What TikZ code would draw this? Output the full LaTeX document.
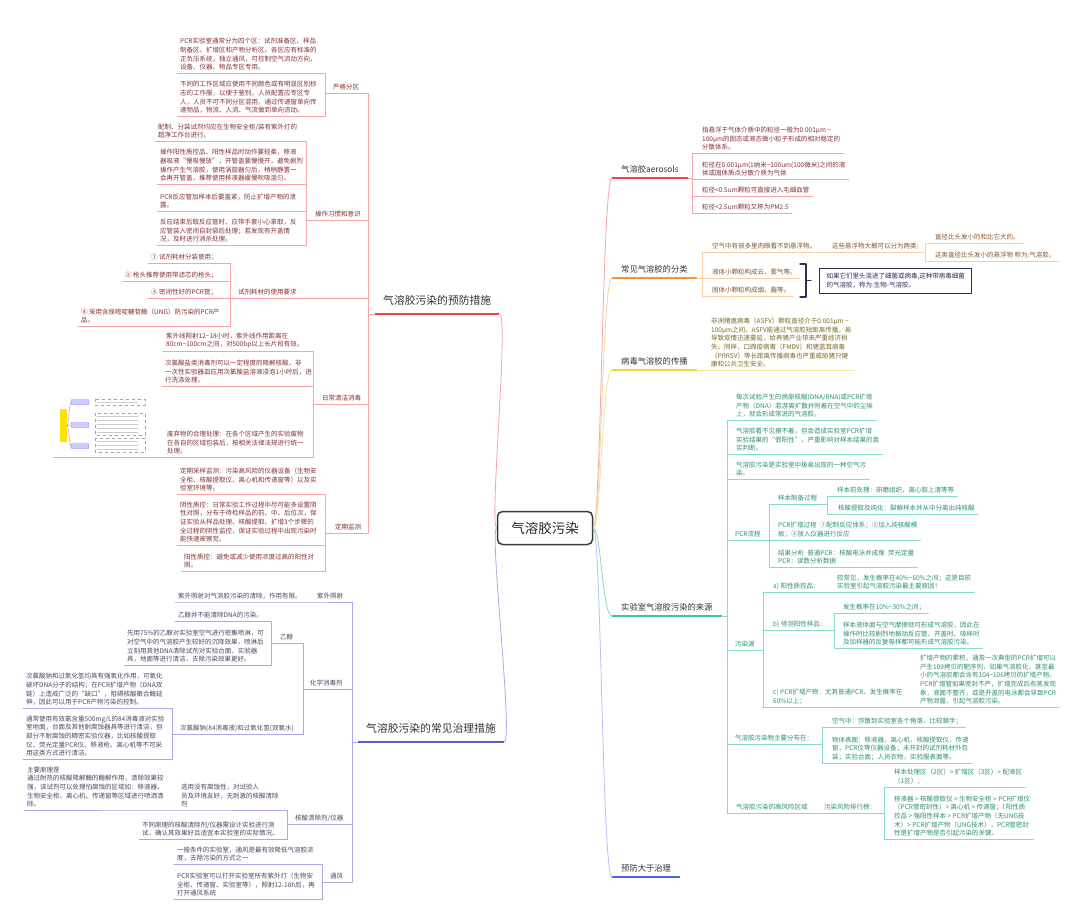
\documentclass[tikz,border=0pt]{standalone}
\usepackage{fontspec}
\setmainfont{Noto Sans CJK SC}
\definecolor{hubline}{RGB}{60,60,60}
\definecolor{redT}{RGB}{130,50,50}
\definecolor{redL}{RGB}{245,165,165}
\definecolor{redM}{RGB}{238,70,70}
\definecolor{bluT}{RGB}{72,72,100}
\definecolor{bluL}{RGB}{170,170,230}
\definecolor{bluM}{RGB}{90,90,215}
\definecolor{orgT}{RGB}{135,85,45}
\definecolor{orgL}{RGB}{248,208,165}
\definecolor{orgM}{RGB}{245,148,55}
\definecolor{yelT}{RGB}{125,105,40}
\definecolor{yelL}{RGB}{244,228,150}
\definecolor{yelM}{RGB}{245,212,45}
\definecolor{grnT}{RGB}{45,145,105}
\definecolor{grnL}{RGB}{135,222,188}
\definecolor{grnM}{RGB}{55,205,140}
\definecolor{preM}{RGB}{72,100,240}
\definecolor{navy}{RGB}{45,47,90}
\newcommand{\tl}{\textasciitilde}
\begin{document}
\begin{tikzpicture}[x=1pt, y=-1pt, line join=round, line cap=round,
  txt/.style={anchor=south west, align=left, inner xsep=3pt, inner ysep=2.5pt, font=\fontsize{6.5}{8.6}\selectfont},
  rtx/.style={txt, text=redT}, btx/.style={txt, text=bluT}, otx/.style={txt, text=orgT},
  ytx/.style={txt, text=yelT}, gtx/.style={txt, text=grnT},
  rl/.style={draw=redL, line width=0.8pt}, bl/.style={draw=bluL, line width=0.8pt},
  ol/.style={draw=orgL, line width=0.8pt}, yl/.style={draw=yelL, line width=0.8pt},
  gl/.style={draw=grnL, line width=0.8pt},
  topR/.style={anchor=south west, inner xsep=9pt, inner ysep=5pt, font=\fontsize{8.3}{10}\selectfont, text=black!80},
  topL/.style={anchor=south west, inner xsep=8pt, inner ysep=8pt, font=\fontsize{10.8}{12}\selectfont, text=black!80},
  bar/.style={line width=2.6pt, line cap=butt},
  hubbox/.style={draw=hubline, line width=1.5pt, rounded corners=5pt, fill=white, minimum width=95pt, minimum height=33pt, font=\fontsize{13.5}{15}\selectfont, text=black!85}]
\fill[white] (0,0) rectangle (1080,923);
\useasboundingbox (0,0) rectangle (1080,923);
% trunks
\coordinate (T1) at (368,0); \coordinate (A1) at (325,0); \coordinate (A2) at (306,0);
\coordinate (A3) at (230,0); \coordinate (A4) at (313,0); \coordinate (A5) at (325,0);
\coordinate (T2) at (352,0); \coordinate (B1) at (303,0); \coordinate (B2) at (303,0);
\coordinate (B21) at (271,0); \coordinate (B22) at (172,0); \coordinate (B3) at (287,0); \coordinate (B4) at (322,0);
\coordinate (C1) at (692,0); \coordinate (C2) at (702,0); \coordinate (C21) at (925,0);
\coordinate (C4) at (727,0); \coordinate (C41) at (769,0); \coordinate (C411) at (827,0);
\coordinate (C42) at (763,0); \coordinate (C422) at (834,0); \coordinate (C43) at (822,0); \coordinate (C44) at (884,0);

% hub and main topics
\node[hubbox] (hub) at (545,528) {气溶胶污染};
\node[topL] (prv) at (375,314) {气溶胶污染的预防措施};
\node[topL] (trt) at (358,742) {气溶胶污染的常见治理措施};
\node[topR] (aer) at (612,178) {气溶胶aerosols};
\node[topR] (cls) at (612,278) {常见气溶胶的分类};
\node[topR] (vir) at (612,370) {病毒气溶胶的传播};
\node[topR] (src) at (612,616) {实验室气溶胶污染的来源};
\node[topR] (pre) at (612,877) {预防大于治理};
\draw[redL, line width=0.8pt] (hub.west) .. controls +(-8,0) and +(10,0) .. (prv.south east);
\draw[bluL, line width=0.8pt] (hub.west) .. controls +(-8,0) and +(10,0) .. (trt.south east);
\draw[redL, line width=0.8pt] (hub.east) .. controls +(8,0) and +(-10,0) .. (aer.south west);
\draw[orgL, line width=0.8pt] (hub.east) .. controls +(8,0) and +(-10,0) .. (cls.south west);
\draw[yelL, line width=0.8pt] (hub.east) .. controls +(8,0) and +(-10,0) .. (vir.south west);
\draw[grnL, line width=0.8pt] (hub.east) .. controls +(8,0) and +(-10,0) .. (src.south west);
\draw[preM!40, line width=0.8pt] (hub.east) .. controls +(8,0) and +(-10,0) .. (pre.south west);
\draw[bar, redM] (prv.south west) -- (prv.south east);
\draw[bar, bluM] (trt.south west) -- (trt.south east);
\draw[bar, redM] (aer.south west) -- (aer.south east);
\draw[bar, orgM] (cls.south west) -- (cls.south east);
\draw[bar, yelM] (vir.south west) -- (vir.south east);
\draw[bar, grnM] (src.south west) -- (src.south east);
\draw[bar, preM] (pre.south west) -- (pre.south east);

% ---- 预防措施
\node[rtx] (sp) at (330,93) {严格分区};
\node[rtx] (sp1) at (177,73) {PCR实验室通常分为四个区：试剂准备区、样品\\制备区、扩增区和产物分析区。各区应有标准的\\正负压系统，独立通风，可控制空气流动方向，\\设备、仪器、物品专区专用。};
\node[rtx] (sp2) at (177,116) {不同的工作区域应使用不同颜色或有明显区别标\\志的工作服，以便于鉴别。人员配置应专区专\\人，人员不可不同分区混用，通过传递窗单向传\\递物品，物流、人流、气流做到单向流动。};
\draw[rl] (sp1.south west) -| (A1 |- sp2.south) -- (sp2.south west);
\draw[rl] (A1 |- sp.south) -- (T1 |- sp.south);

\node[rtx] (op) at (312,220) {操作习惯和意识};
\node[rtx] (op1) at (155,141) {配制、分装试剂均应在生物安全柜/装有紫外灯的\\超净工作台进行。};
\node[rtx] (op2) at (157,184) {操作阳性质控品、阳性样品时动作要轻柔，移液\\器吸液“慢吸慢放”，开管盖要慢慢开，避免剧烈\\操作产生气溶胶，使用涡旋器匀后，稍稍静置一\\会再开管盖，推荐使用移液器缓慢吹吸混匀。};
\node[rtx] (op3) at (157,211) {PCR反应管加样本后要盖紧，防止扩增产物的泄\\露。};
\node[rtx] (op4) at (157,245) {反应结束后取反应管时，应带手套小心拿取，反\\应管装入密闭自封袋后处理；若发现有开盖情\\况，及时进行消杀处理。};
\draw[rl] (op1.south west) -| (A2 |- op4.south) -- (op4.south west);
\draw[rl] (op2.south west) -- (A2 |- op2.south);
\draw[rl] (op3.south west) -- (A2 |- op3.south);
\draw[rl] (A2 |- op.south) -- (T1 |- op.south);

\node[rtx] (re) at (235,298) {试剂耗材的使用要求};
\node[rtx] (re1) at (148,263) {① 试剂耗材分装使用；};
\node[rtx] (re2) at (122,281) {② 枪头推荐使用带滤芯的枪头；};
\node[rtx] (re3) at (148,298) {③ 密闭性好的PCR管；};
\node[rtx] (re4) at (78,326) {④ 采用含尿嘧啶糖苷酶（UNG）防污染的PCR产\\品。};
\draw[rl] (re1.south west) -| (A3 |- re4.south) -- (re4.south west);
\draw[rl] (re2.south west) -- (A3 |- re2.south);
\draw[rl] (re3.south west) -- (A3 |- re3.south);
\draw[rl] (A3 |- re.south) -- (T1 |- re.south);

\node[rtx] (dc) at (319,404) {日常清洁消毒};
\node[rtx] (dc1) at (163,351) {紫外线照射12\tl18小时，紫外线作用距离在\\80cm\tl100cm之间，对500bp以上长片段有效。};
\node[rtx] (dc2) at (162,386) {次氯酸盐类消毒剂可以一定程度的降解核酸，非\\一次性实验器皿应用次氯酸盐溶液浸泡1小时后，进\\行洗涤处理。};
\node[rtx] (dc3) at (164,457) {废弃物的合理处理：在各个区域产生的实验废物\\在各自的区域包装后，按相关法律法规进行统一\\处理。};
\coordinate (dcimg) at (53,457);
\draw[rl] (dc1.south west) -| (A4 |- dcimg) -- (dcimg);
\draw[rl] (dc2.south west) -- (A4 |- dc2.south);
\draw[rl] (A4 |- dc.south) -- (T1 |- dc.south);
% small picture in the topic
\fill[yellow!85!orange, rounded corners=1pt] (60,409) rectangle (67,442);
\foreach \yy in {402,425,446} {
  \draw[blue!35, line width=0.5pt] (67,425.5) .. controls (69,425.5) and (69,\yy) .. (71,\yy);
  \draw[blue!45, fill=blue!20, rounded corners=1pt] (71,\yy-2.5) rectangle (89,\yy+2.5);
}
\draw[gray!70, dashed, line width=0.4pt] (95,399) rectangle (145,405) (95,413) rectangle (145,435) (95,438) rectangle (145,452);
\foreach \yy in {402,416,420,424,428,432,441,445,449}
  \draw[gray!40, line width=0.8pt] (97,\yy) -- (138,\yy);

\node[rtx] (pm) at (332,533) {定期监测};
\node[rtx] (pm1) at (177,494) {定期采样监测：污染高风险的仪器设备（生物安\\全柜、核酸提取仪、离心机和传递窗等）以及实\\验室环境等。};
\node[rtx] (pm2) at (177,545) {阴性质控：日常实验工作过程中尽可能多设置阴\\性对照，分布于待检样品的前、中、后位次，保\\证实验从样品处理、核酸提取、扩增3个步骤的\\全过程的阴性监控，保证实验过程中出现污染时\\能快速被察觉。};
\node[rtx] (pm3) at (181,571) {阳性质控：避免或减少使用浓度过高的阳性对\\照。};
\draw[rl] (pm1.south west) -| (A5 |- pm3.south) -- (pm3.south west);
\draw[rl] (pm2.south west) -- (A5 |- pm2.south);
\draw[rl] (A5 |- pm.south) -- (T1 |- pm.south);
\draw[rl] (T1 |- sp.south) -- (T1 |- pm.south);
\draw[rl] (T1 |- prv.south) -- (prv.south west);

% ---- 治理措施
\node[btx] (uv) at (314,602) {紫外照射};
\node[btx] (uv1) at (175,602) {紫外照射对气溶胶污染的清除，作用有限。};
\draw[bl] (uv1.south west) -- (B1 |- uv1.south) -- (T2 |- uv.south);

\node[btx] (ch) at (307,689) {化学消毒剂};
\node[btx] (et) at (277,643) {乙醇};
\node[btx] (et1) at (175,621) {乙醇并不能清除DNA的污染。};
\node[btx] (et2) at (124,665) {先用75\%的乙醇对实验室空气进行密集喷淋，可\\对空气中的气溶胶产生较好的沉降效果，喷淋后\\立刻用其他DNA清除试剂对实验台面，实验器\\具，地面等进行清洁，去除污染效果更好。};
\node[btx] (hy) at (177,734) {次氯酸钠(84消毒液)和过氧化氢(双氧水)};
\node[btx] (hy1) at (23,708) {次氯酸钠和过氧化氢均具有强氧化作用，可氧化\\破坏DNA分子的结构；在PCR扩增产物（DNA双\\链）上造成广泛的“缺口”，阻碍核酸聚合酶延\\伸，因此可以用于PCR产物污染的控制。};
\node[btx] (hy2) at (23,759) {通常使用有效氯含量500mg/L的84消毒液对实验\\室地面，台面及其他耐腐蚀器具等进行清洁，但\\部分不耐腐蚀的精密实验仪器，比如核酸提取\\仪、荧光定量PCR仪、移液枪、离心机等不可采\\用这类方式进行清洁。};
\draw[bl] (et1.south west) -| (B21 |- et2.south) -- (et2.south west);
\draw[bl] (B21 |- et.south) -- (B2 |- et.south) -- (B2 |- hy.south) -- (B22 |- hy.south);
\draw[bl] (hy1.south west) -| (B22 |- hy2.south) -- (hy2.south west);
\draw[bl] (B2 |- ch.south) -- (T2 |- ch.south);

\node[btx] (na) at (292,824) {核酸清除剂/仪器};
\node[btx] (na1) at (178,810) {选用没有腐蚀性，对试验人\\员及环境友好，无刺激的核酸清除\\剂};
\node[btx] (na11) at (24,810) {主要原理是\\通过耐热的核酸降解酶的酶解作用，清除效果较\\强，该试剂可以处理怕腐蚀的区域如：移液器、\\生物安全柜、离心机、传递窗等区域进行喷洒清\\除。};
\node[btx] (na2) at (139,839) {不同原理的核酸清除剂/仪器需设计实验进行测\\试，确认其效果好且适宜本实验室的实际情况。};
\draw[bl] (na11.south west) -- (na1.south west) -| (B3 |- na2.south) -- (na2.south west);
\draw[bl] (B3 |- na.south) -- (T2 |- na.south);

\node[btx] (ve) at (327,882) {通风};
\node[btx] (ve1) at (174,864) {一般条件的实验室，通风是最有效降低气溶胶浓\\度，去除污染的方式之一};
\node[btx] (ve2) at (174,899) {PCR实验室可以打开实验室所有紫外灯（生物安\\全柜、传递窗、实验室等），照射12-18h后，再\\打开通风系统};
\draw[bl] (ve1.south west) -| (B4 |- ve2.south) -- (ve2.south west);
\draw[bl] (B4 |- ve.south) -- (T2 |- ve.south);
\draw[bl] (T2 |- uv.south) -- (T2 |- ve.south);
\draw[bl] (T2 |- trt.south) -- (trt.south west);

% ---- aerosols
\node[rtx] (ae1) at (699,153) {指悬浮于气体介质中的粒径一般为0.001μm \tl\\100μm的固态或液态微小粒子形成的相对稳定的\\分散体系。};
\node[rtx] (ae2) at (699,179) {粒径在0.001μm(1纳米\tl100um(100微米)之间的液\\体或固体质点分散介质为气体};
\node[rtx] (ae3) at (699,196) {粒径<0.5um颗粒可直接进入毛细血管};
\node[rtx] (ae4) at (699,213) {粒径<2.5um颗粒又称为PM2.5};
\draw[rl] (ae1.south east) -- (C1 |- ae1.south) -- (C1 |- ae4.south) -- (ae4.south east);
\draw[rl] (C1 |- ae2.south) -- (ae2.south east);
\draw[rl] (C1 |- ae3.south) -- (ae3.south east);
\draw[rl] (aer.south east) -- (C1 |- aer.south);

% ---- 分类
\node[otx] (cl1) at (709,252) {空气中有很多里肉眼看不到悬浮物。};
\node[otx] (cl11) at (829,252) {这些悬浮物大概可以分为两类:};
\node[otx] (cl111) at (932,243) {直径比头发小的和比它大的。};
\node[otx] (cl112) at (932,261) {这类直径比头发小的悬浮物 称为:气溶胶。};
\node[otx] (cl2) at (709,278) {液体小颗粒构成云、雾气等。};
\node[otx] (cl3) at (709,296) {固体小颗粒构成烟、霾等。};
\draw[ol] (C2 |- cl1.south) -- (C21 |- cl11.south);
\draw[ol] (cl111.south east) -- (C21 |- cl111.south) -- (C21 |- cl112.south) -- (cl112.south east);
\draw[ol] (C2 |- cl1.south) -- (C2 |- cl3.south) -- (cl3.south east);
\draw[ol] (C2 |- cl2.south) -- (cl2.south east);
\draw[ol] (cls.south east) -- (C2 |- cls.south);
\node[draw=navy, line width=1pt, fill=white, align=left, inner xsep=7pt, minimum height=25pt,
  font=\fontsize{6.5}{8.6}\selectfont, text=navy, anchor=west] (bio) at (819,280.5)
  {如果它们里头混进了细菌或病毒,这种带病毒细菌\\的气溶胶，称为:生物-气溶胶。};
\draw[navy, line width=1.2pt] (800,264) -- (806,264) -- (806,297) -- (800,297) (806,280.5) -- (811,280.5);

% ---- 病毒
\node[ytx] (vi1) at (708,370) {非洲猪瘟病毒（ASFV）颗粒直径介于0.001μm \tl\\100μm之间。ASFV能通过气溶胶短距离传播，易\\导致疫情迅速蔓延，给养猪产业带来严重经济损\\失。同样，口蹄疫病毒（FMDV）和猪蓝耳病毒\\（PRRSV）等长距离传播病毒也严重威胁猪只健\\康和公共卫生安全。};
\draw[yl] (vir.south east) -- (vi1.south east);

% ---- 来源
\node[gtx] (sr1) at (733,420) {每次试验产生的病原核酸(DNA/RNA)或PCR扩增\\产物（DNA）若游离扩散并附着在空气中的尘埃\\上，就会形成常说的气溶胶。};
\node[gtx] (sr2) at (733,454) {气溶胶看不见摸不着，但会造成实验室PCR扩增\\实验结果的“假阳性”，严重影响对样本结果的真\\实判断。};
\node[gtx] (sr3) at (733,479) {气溶胶污染是实验室中极易出现的一种空气污\\染。};
\draw[gl] (C4 |- sr1.south) -- (sr1.south east);
\draw[gl] (C4 |- sr2.south) -- (sr2.south east);
\draw[gl] (C4 |- sr3.south) -- (sr3.south east);

\node[gtx] (pcr) at (732,540) {PCR流程};
\node[gtx] (pc1) at (775,504) {样本制备过程};
\node[gtx] (pc11) at (834,496) {样本前处理：研磨组织，离心取上清等等};
\node[gtx] (pc12) at (835,514) {核酸提取及纯化：裂解样本并从中分离出纯核酸};
\node[gtx] (pc2) at (775,540) {PCR扩增过程\enspace①配制反应体系；②加入纯核酸模\\板；③放入仪器进行反应};
\node[gtx] (pc3) at (775,567) {结果分析\enspace 普通PCR：核酸电泳并成像\enspace 荧光定量\\PCR：读数分析数据};
\draw[gl] (C4 |- pcr.south) -- (C41 |- pcr.south);
\draw[gl] (C41 |- pc1.south) -- (C411 |- pc1.south);
\draw[gl] (pc11.south east) -- (C411 |- pc11.south) -- (C411 |- pc12.south) -- (pc12.south east);
\draw[gl] (C41 |- pc1.south) -- (C41 |- pc3.south) -- (pc3.south east);
\draw[gl] (C41 |- pc2.south) -- (pc2.south east);

\node[gtx] (pol) at (732,650) {污染源};
\node[gtx] (pa) at (770,592) {a) 阳性质控品：};
\node[gtx] (pa1) at (834,592) {较常见，发生概率在40\%\tl60\%之间；这是目前\\实验室引起气溶胶污染最主要原因！};
\node[gtx] (pb) at (770,630) {b) 待测阳性样品：};
\node[gtx] (pb1) at (840,613) {发生概率在10\%\tl30\%之间；};
\node[gtx] (pb2) at (840,648) {样本液体面与空气摩擦就可形成气溶胶，因此在\\操作时比较剧烈地振动反应管、开盖时、吸样时\\及加样器的反复吸样都可能形成气溶胶污染。};
\node[gtx] (pcc) at (770,707) {c) PCR扩增产物：尤其普通PCR，发生概率在\\60\%以上；};
\node[gtx] (pcc1) at (917,707) {扩增产物的累积，通常一次典型的PCR扩增可以\\产生109拷贝的靶序列，如果气溶胶化，甚至最\\小的气溶胶都会含有104\tl106拷贝的扩增产物。\\PCR扩增管如果密封不严，扩增完成后有蒸发现\\象，液面不整齐，或是开盖的电泳都会导致PCR\\产物泄露，引起气溶胶污染。};
\draw[gl] (C4 |- pol.south) -- (C42 |- pol.south);
\draw[gl] (C42 |- pa.south) -- (C42 |- pcc.south);
\draw[gl] (C42 |- pa.south) -- (pa1.south east);
\draw[gl] (C42 |- pb.south) -- (C422 |- pb.south);
\draw[gl] (pb1.south east) -- (C422 |- pb1.south) -- (C422 |- pb2.south) -- (pb2.south east);
\draw[gl] (C42 |- pcc.south) -- (pcc1.south east);

\node[gtx] (dis) at (732,744) {气溶胶污染物主要分布在：};
\node[gtx] (di1) at (829,727) {空气中：弥散到实验室各个角落，比较棘手；};
\node[gtx] (di2) at (829,763) {物体表面：移液器，离心机，核酸提取仪，传递\\窗，PCR仪等仪器设备；未开封的试剂耗材外包\\装；实验台面；人员衣物，实验服表面等。};
\draw[gl] (C4 |- dis.south) -- (C43 |- dis.south);
\draw[gl] (di1.south east) -- (C43 |- di1.south) -- (C43 |- di2.south) -- (di2.south east);

\node[gtx] (hr) at (733,813) {气溶胶污染的高风险区域};
\node[gtx] (hr1) at (821,813) {污染风险排行榜：};
\node[gtx] (hr11) at (891,787) {样本处理区（2区）> 扩增区（3区）> 配液区\\（1区）；};
\node[gtx] (hr12) at (891,839) {移液器 > 核酸提取仪 > 生物安全柜 > PCR扩增仪\\（PCR管密封性）> 离心机 > 传递窗；l 阳性质\\控品 > 强阳性样本 > PCR扩增产物（无UNG技\\术）> PCR扩增产物（UNG技术），PCR管密封\\性是扩增产物是否引起污染的关键。};
\draw[gl] (C4 |- hr.south) -- (C44 |- hr.south);
\draw[gl] (hr11.south east) -- (C44 |- hr11.south) -- (C44 |- hr12.south) -- (hr12.south east);
\draw[gl] (C4 |- sr1.south) -- (C4 |- hr.south);
\draw[gl] (src.south east) -- (C4 |- src.south);
\end{tikzpicture}
\end{document}
